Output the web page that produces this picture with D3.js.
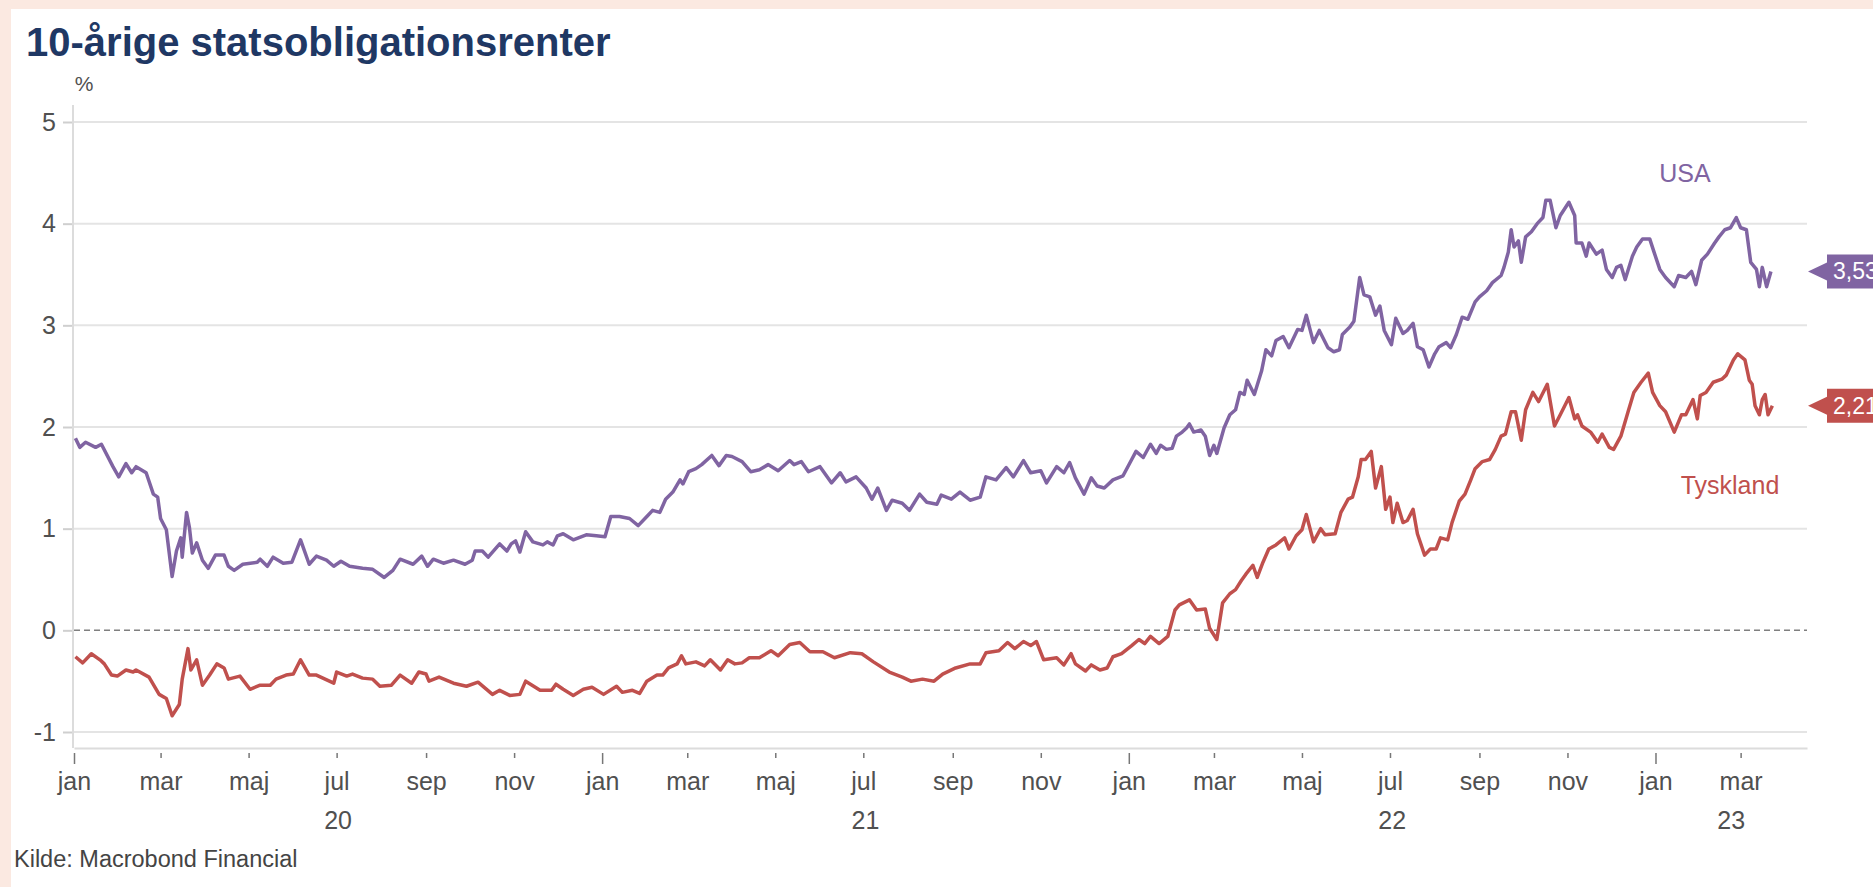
<!DOCTYPE html>
<html>
<head>
<meta charset="utf-8">
<script src="https://cdn.jsdelivr.net/npm/d3@7"></script>
<style>
body { margin: 0; background: #fbe9e1; }
svg { display: block; }
text { font-family: "Liberation Sans", Arial, sans-serif; }
</style>
</head>
<body>
<svg id="chart" width="1873" height="887"></svg>
<script>
var chartTitle = "10-årige statsobligationsrenter";
var sourceNote = "Kilde: Macrobond Financial";
var unitLabel = "%";
var monthNames = ["jan", "feb", "mar", "apr", "maj", "jun", "jul", "aug", "sep", "okt", "nov", "dec"];
var yTicks = [-1, 0, 1, 2, 3, 4, 5];
var xDomain = ["2020-01-01", "2023-04-16"];
var years = [2020, 2021, 2022, 2023];

// 10y US treasury yield
var usaYields = [
    ["2020-01-02", 1.89], ["2020-01-05", 1.80], ["2020-01-09", 1.85], ["2020-01-16", 1.80], ["2020-01-20", 1.83],
    ["2020-01-28", 1.61], ["2020-02-01", 1.51], ["2020-02-06", 1.64], ["2020-02-10", 1.55], ["2020-02-13", 1.61],
    ["2020-02-20", 1.55], ["2020-02-25", 1.34], ["2020-02-28", 1.31], ["2020-03-01", 1.10], ["2020-03-05", 0.99],
    ["2020-03-09", 0.53], ["2020-03-12", 0.78], ["2020-03-15", 0.91], ["2020-03-16", 0.72], ["2020-03-19", 1.16],
    ["2020-03-21", 1.01], ["2020-03-23", 0.76], ["2020-03-26", 0.86], ["2020-03-30", 0.69], ["2020-04-03", 0.61],
    ["2020-04-08", 0.74], ["2020-04-14", 0.74], ["2020-04-17", 0.63], ["2020-04-21", 0.59], ["2020-04-27", 0.65],
    ["2020-05-07", 0.67], ["2020-05-09", 0.70], ["2020-05-14", 0.63], ["2020-05-18", 0.72], ["2020-05-25", 0.66],
    ["2020-05-31", 0.67], ["2020-06-06", 0.89], ["2020-06-12", 0.65], ["2020-06-17", 0.73], ["2020-06-24", 0.69],
    ["2020-06-29", 0.63], ["2020-07-04", 0.68], ["2020-07-10", 0.63], ["2020-07-19", 0.61], ["2020-07-26", 0.60],
    ["2020-08-03", 0.52], ["2020-08-09", 0.59], ["2020-08-14", 0.70], ["2020-08-23", 0.65], ["2020-08-29", 0.73],
    ["2020-09-02", 0.63], ["2020-09-06", 0.70], ["2020-09-13", 0.66], ["2020-09-20", 0.69], ["2020-09-28", 0.65],
    ["2020-10-03", 0.69], ["2020-10-05", 0.78], ["2020-10-10", 0.78], ["2020-10-14", 0.72], ["2020-10-22", 0.85],
    ["2020-10-27", 0.78], ["2020-10-30", 0.85], ["2020-11-02", 0.88], ["2020-11-05", 0.77], ["2020-11-09", 0.97],
    ["2020-11-14", 0.87], ["2020-11-21", 0.84], ["2020-11-24", 0.87], ["2020-11-28", 0.84], ["2020-12-01", 0.93],
    ["2020-12-05", 0.95], ["2020-12-12", 0.89], ["2020-12-21", 0.94], ["2020-12-28", 0.93], ["2021-01-03", 0.92],
    ["2021-01-07", 1.12], ["2021-01-13", 1.12], ["2021-01-20", 1.10], ["2021-01-26", 1.03], ["2021-02-01", 1.12],
    ["2021-02-05", 1.18], ["2021-02-10", 1.16], ["2021-02-14", 1.29], ["2021-02-19", 1.36], ["2021-02-24", 1.48],
    ["2021-02-26", 1.44], ["2021-03-02", 1.56], ["2021-03-07", 1.59], ["2021-03-11", 1.63], ["2021-03-18", 1.72],
    ["2021-03-23", 1.62], ["2021-03-28", 1.72], ["2021-04-01", 1.71], ["2021-04-08", 1.66], ["2021-04-14", 1.56],
    ["2021-04-20", 1.58], ["2021-04-26", 1.63], ["2021-05-03", 1.57], ["2021-05-11", 1.67], ["2021-05-14", 1.63],
    ["2021-05-19", 1.66], ["2021-05-24", 1.56], ["2021-06-01", 1.61], ["2021-06-09", 1.45], ["2021-06-15", 1.55],
    ["2021-06-19", 1.46], ["2021-06-26", 1.51], ["2021-07-03", 1.40], ["2021-07-07", 1.29], ["2021-07-11", 1.40],
    ["2021-07-17", 1.18], ["2021-07-21", 1.28], ["2021-07-28", 1.25], ["2021-08-02", 1.18], ["2021-08-09", 1.34],
    ["2021-08-14", 1.26], ["2021-08-21", 1.24], ["2021-08-24", 1.33], ["2021-08-31", 1.29], ["2021-09-06", 1.36],
    ["2021-09-13", 1.28], ["2021-09-20", 1.31], ["2021-09-24", 1.51], ["2021-10-01", 1.48], ["2021-10-08", 1.60],
    ["2021-10-13", 1.51], ["2021-10-20", 1.67], ["2021-10-25", 1.55], ["2021-11-01", 1.57], ["2021-11-05", 1.45],
    ["2021-11-12", 1.61], ["2021-11-17", 1.55], ["2021-11-21", 1.65], ["2021-11-25", 1.50], ["2021-12-01", 1.34],
    ["2021-12-06", 1.50], ["2021-12-10", 1.42], ["2021-12-15", 1.40], ["2021-12-21", 1.48], ["2021-12-28", 1.52],
    ["2022-01-03", 1.68], ["2022-01-06", 1.76], ["2022-01-11", 1.70], ["2022-01-16", 1.83], ["2022-01-20", 1.74],
    ["2022-01-23", 1.82], ["2022-01-27", 1.78], ["2022-01-31", 1.79], ["2022-02-03", 1.91], ["2022-02-07", 1.95],
    ["2022-02-10", 1.99], ["2022-02-12", 2.03], ["2022-02-15", 1.95], ["2022-02-20", 1.97], ["2022-02-23", 1.91],
    ["2022-02-26", 1.72], ["2022-03-01", 1.82], ["2022-03-03", 1.74], ["2022-03-08", 1.99], ["2022-03-12", 2.12],
    ["2022-03-16", 2.17], ["2022-03-19", 2.34], ["2022-03-22", 2.32], ["2022-03-24", 2.46], ["2022-03-29", 2.32],
    ["2022-04-03", 2.55], ["2022-04-06", 2.76], ["2022-04-10", 2.70], ["2022-04-13", 2.85], ["2022-04-18", 2.89],
    ["2022-04-22", 2.78], ["2022-04-28", 2.96], ["2022-05-01", 2.95], ["2022-05-04", 3.10], ["2022-05-09", 2.83],
    ["2022-05-13", 2.95], ["2022-05-19", 2.78], ["2022-05-23", 2.74], ["2022-05-27", 2.76], ["2022-05-29", 2.91],
    ["2022-06-03", 2.98], ["2022-06-06", 3.04], ["2022-06-10", 3.47], ["2022-06-13", 3.30], ["2022-06-17", 3.28],
    ["2022-06-21", 3.10], ["2022-06-24", 3.19], ["2022-06-27", 2.95], ["2022-07-02", 2.81], ["2022-07-05", 3.07],
    ["2022-07-10", 2.92], ["2022-07-13", 2.95], ["2022-07-17", 3.02], ["2022-07-20", 2.79], ["2022-07-24", 2.76],
    ["2022-07-28", 2.59], ["2022-08-01", 2.72], ["2022-08-04", 2.79], ["2022-08-09", 2.83], ["2022-08-12", 2.78],
    ["2022-08-16", 2.91], ["2022-08-20", 3.08], ["2022-08-24", 3.06], ["2022-08-29", 3.23], ["2022-09-01", 3.28],
    ["2022-09-06", 3.34], ["2022-09-10", 3.42], ["2022-09-16", 3.49], ["2022-09-18", 3.57], ["2022-09-21", 3.72],
    ["2022-09-23", 3.94], ["2022-09-25", 3.77], ["2022-09-28", 3.83], ["2022-09-30", 3.62], ["2022-10-03", 3.87],
    ["2022-10-07", 3.92], ["2022-10-11", 4.00], ["2022-10-15", 4.06], ["2022-10-17", 4.23], ["2022-10-20", 4.23],
    ["2022-10-24", 3.96], ["2022-10-27", 4.08], ["2022-11-02", 4.21], ["2022-11-06", 4.08], ["2022-11-07", 3.81],
    ["2022-11-11", 3.81], ["2022-11-14", 3.68], ["2022-11-16", 3.81], ["2022-11-21", 3.70], ["2022-11-25", 3.74],
    ["2022-11-28", 3.55], ["2022-12-02", 3.47], ["2022-12-05", 3.57], ["2022-12-08", 3.59], ["2022-12-11", 3.45],
    ["2022-12-16", 3.68], ["2022-12-19", 3.77], ["2022-12-23", 3.85], ["2022-12-28", 3.85], ["2022-12-31", 3.72],
    ["2023-01-04", 3.55], ["2023-01-08", 3.47], ["2023-01-14", 3.38], ["2023-01-17", 3.49], ["2023-01-22", 3.47],
    ["2023-01-26", 3.53], ["2023-01-29", 3.40], ["2023-02-02", 3.64], ["2023-02-06", 3.70], ["2023-02-11", 3.81],
    ["2023-02-14", 3.87], ["2023-02-18", 3.94], ["2023-02-22", 3.96], ["2023-02-26", 4.06], ["2023-03-01", 3.96],
    ["2023-03-05", 3.94], ["2023-03-08", 3.62], ["2023-03-12", 3.55], ["2023-03-14", 3.38], ["2023-03-16", 3.57],
    ["2023-03-19", 3.38], ["2023-03-22", 3.53]
];

// 10y German bund yield
var tysklandYields = [
    ["2020-01-02", -0.26], ["2020-01-07", -0.32], ["2020-01-13", -0.23], ["2020-01-19", -0.29], ["2020-01-22", -0.33],
    ["2020-01-27", -0.44], ["2020-01-31", -0.45], ["2020-02-06", -0.39], ["2020-02-11", -0.41], ["2020-02-13", -0.39],
    ["2020-02-22", -0.46], ["2020-02-29", -0.63], ["2020-03-05", -0.67], ["2020-03-09", -0.84], ["2020-03-14", -0.73],
    ["2020-03-16", -0.48], ["2020-03-20", -0.18], ["2020-03-22", -0.39], ["2020-03-26", -0.29], ["2020-03-30", -0.54],
    ["2020-04-04", -0.44], ["2020-04-09", -0.33], ["2020-04-14", -0.37], ["2020-04-17", -0.48], ["2020-04-25", -0.45],
    ["2020-05-02", -0.58], ["2020-05-09", -0.54], ["2020-05-16", -0.54], ["2020-05-20", -0.48], ["2020-05-27", -0.44],
    ["2020-06-01", -0.43], ["2020-06-06", -0.29], ["2020-06-12", -0.44], ["2020-06-17", -0.44], ["2020-06-29", -0.52],
    ["2020-07-01", -0.41], ["2020-07-08", -0.45], ["2020-07-12", -0.43], ["2020-07-19", -0.47], ["2020-07-26", -0.48],
    ["2020-07-31", -0.55], ["2020-08-08", -0.54], ["2020-08-14", -0.44], ["2020-08-22", -0.52], ["2020-08-27", -0.41],
    ["2020-09-01", -0.43], ["2020-09-03", -0.50], ["2020-09-10", -0.46], ["2020-09-20", -0.52], ["2020-09-29", -0.55],
    ["2020-10-07", -0.51], ["2020-10-17", -0.63], ["2020-10-22", -0.59], ["2020-10-29", -0.64], ["2020-11-05", -0.63],
    ["2020-11-09", -0.50], ["2020-11-19", -0.59], ["2020-11-27", -0.59], ["2020-11-30", -0.53], ["2020-12-05", -0.58],
    ["2020-12-12", -0.64], ["2020-12-19", -0.58], ["2020-12-25", -0.56], ["2021-01-02", -0.63], ["2021-01-11", -0.55],
    ["2021-01-15", -0.61], ["2021-01-22", -0.59], ["2021-01-27", -0.62], ["2021-02-01", -0.50], ["2021-02-08", -0.44],
    ["2021-02-12", -0.44], ["2021-02-16", -0.37], ["2021-02-22", -0.33], ["2021-02-25", -0.25], ["2021-02-28", -0.33],
    ["2021-03-07", -0.31], ["2021-03-13", -0.35], ["2021-03-17", -0.29], ["2021-03-24", -0.39], ["2021-03-29", -0.29],
    ["2021-04-03", -0.33], ["2021-04-08", -0.32], ["2021-04-13", -0.27], ["2021-04-20", -0.27], ["2021-04-28", -0.20],
    ["2021-05-03", -0.25], ["2021-05-11", -0.14], ["2021-05-18", -0.12], ["2021-05-25", -0.21], ["2021-06-03", -0.21],
    ["2021-06-11", -0.27], ["2021-06-22", -0.22], ["2021-06-30", -0.23], ["2021-07-08", -0.31], ["2021-07-19", -0.41],
    ["2021-07-28", -0.46], ["2021-08-03", -0.50], ["2021-08-11", -0.48], ["2021-08-19", -0.50], ["2021-08-25", -0.43],
    ["2021-09-03", -0.37], ["2021-09-13", -0.33], ["2021-09-20", -0.33], ["2021-09-24", -0.22], ["2021-10-03", -0.20],
    ["2021-10-09", -0.12], ["2021-10-14", -0.18], ["2021-10-20", -0.11], ["2021-10-25", -0.15], ["2021-10-29", -0.11],
    ["2021-11-03", -0.29], ["2021-11-12", -0.27], ["2021-11-17", -0.34], ["2021-11-22", -0.23], ["2021-11-25", -0.33],
    ["2021-12-02", -0.40], ["2021-12-06", -0.34], ["2021-12-12", -0.39], ["2021-12-17", -0.37], ["2021-12-21", -0.26],
    ["2021-12-27", -0.23], ["2022-01-03", -0.15], ["2022-01-08", -0.09], ["2022-01-12", -0.13], ["2022-01-16", -0.06],
    ["2022-01-22", -0.13], ["2022-01-28", -0.06], ["2022-02-02", 0.20], ["2022-02-05", 0.25], ["2022-02-12", 0.30],
    ["2022-02-17", 0.20], ["2022-02-23", 0.21], ["2022-02-26", 0.02], ["2022-03-03", -0.09], ["2022-03-07", 0.27],
    ["2022-03-12", 0.36], ["2022-03-16", 0.40], ["2022-03-20", 0.49], ["2022-03-23", 0.55], ["2022-03-28", 0.64],
    ["2022-03-31", 0.52], ["2022-04-04", 0.67], ["2022-04-08", 0.80], ["2022-04-13", 0.84], ["2022-04-19", 0.91],
    ["2022-04-22", 0.80], ["2022-04-27", 0.93], ["2022-05-01", 0.99], ["2022-05-04", 1.14], ["2022-05-09", 0.87],
    ["2022-05-14", 1.00], ["2022-05-17", 0.94], ["2022-05-24", 0.95], ["2022-05-28", 1.16], ["2022-06-02", 1.29],
    ["2022-06-05", 1.31], ["2022-06-09", 1.51], ["2022-06-11", 1.68], ["2022-06-14", 1.68], ["2022-06-18", 1.76],
    ["2022-06-21", 1.40], ["2022-06-25", 1.61], ["2022-06-28", 1.19], ["2022-07-01", 1.31], ["2022-07-03", 1.06],
    ["2022-07-06", 1.25], ["2022-07-10", 1.06], ["2022-07-13", 1.08], ["2022-07-17", 1.19], ["2022-07-20", 0.95],
    ["2022-07-25", 0.74], ["2022-07-29", 0.80], ["2022-08-02", 0.80], ["2022-08-05", 0.91], ["2022-08-10", 0.89],
    ["2022-08-13", 1.06], ["2022-08-18", 1.27], ["2022-08-22", 1.34], ["2022-08-26", 1.48], ["2022-08-29", 1.59],
    ["2022-09-03", 1.66], ["2022-09-08", 1.68], ["2022-09-12", 1.78], ["2022-09-16", 1.91], ["2022-09-19", 1.93],
    ["2022-09-23", 2.15], ["2022-09-26", 2.15], ["2022-09-30", 1.87], ["2022-10-03", 2.17], ["2022-10-08", 2.34],
    ["2022-10-12", 2.25], ["2022-10-18", 2.42], ["2022-10-23", 2.01], ["2022-10-27", 2.12], ["2022-11-02", 2.29],
    ["2022-11-06", 2.08], ["2022-11-08", 2.12], ["2022-11-11", 2.01], ["2022-11-17", 1.95], ["2022-11-22", 1.85],
    ["2022-11-25", 1.93], ["2022-11-30", 1.80], ["2022-12-03", 1.78], ["2022-12-08", 1.91], ["2022-12-13", 2.15],
    ["2022-12-17", 2.34], ["2022-12-22", 2.44], ["2022-12-27", 2.53], ["2022-12-30", 2.34], ["2023-01-04", 2.21],
    ["2023-01-08", 2.15], ["2023-01-14", 1.95], ["2023-01-19", 2.12], ["2023-01-22", 2.12], ["2023-01-27", 2.27],
    ["2023-01-30", 2.08], ["2023-02-01", 2.31], ["2023-02-05", 2.34], ["2023-02-10", 2.44], ["2023-02-16", 2.47],
    ["2023-02-19", 2.51], ["2023-02-24", 2.66], ["2023-02-27", 2.72], ["2023-03-04", 2.66], ["2023-03-07", 2.46],
    ["2023-03-09", 2.42], ["2023-03-11", 2.21], ["2023-03-14", 2.12], ["2023-03-16", 2.27], ["2023-03-18", 2.32],
    ["2023-03-20", 2.12], ["2023-03-23", 2.21]
];

var series = [
    {name: "USA", values: usaYields, color: "#8064a2", labelX: 1685, labelY: 173},
    {name: "Tyskland", values: tysklandYields, color: "#c0504d", labelX: 1730, labelY: 485}
];

var parseDate = d3.timeParse("%Y-%m-%d");
var commaFormat = function(v) { return d3.format(".2f")(v).replace(".", ","); };

var svg = d3.select("#chart");

// white panel on the pink page
svg.append("rect")
    .attr("x", 11).attr("y", 9)
    .attr("width", 1873 - 11).attr("height", 887 - 9)
    .attr("fill", "#ffffff");

var x = d3.scaleTime()
    .domain(xDomain.map(parseDate))
    .range([74, 1807]);
var y = d3.scaleLinear()
    .domain([-1, 5])
    .range([732, 122]);

var plotBottom = 748,
    plotTop = 105;

// gridlines
svg.append("g").attr("class", "grid")
    .selectAll("line")
    .data(yTicks.filter(function(d) { return d != 0; }))
    .enter().append("line")
    .attr("x1", x.range()[0]).attr("x2", x.range()[1])
    .attr("y1", function(d) { return y(d); })
    .attr("y2", function(d) { return y(d); })
    .attr("stroke", "#e4e4e4")
    .attr("stroke-width", 2);

// y axis
var yAxis = svg.append("g")
    .attr("transform", "translate(73,0)")
    .call(d3.axisLeft(y)
        .tickValues(yTicks)
        .tickFormat(function(d) { return String(d); })
        .tickSize(10)
        .tickPadding(7));
yAxis.select(".domain").remove();
yAxis.selectAll(".tick line").attr("stroke", "#cfcfcf").attr("stroke-width", 2);
yAxis.selectAll(".tick text")
    .attr("fill", "#505050")
    .style("font-size", "25px");
svg.append("line")
    .attr("x1", 73).attr("x2", 73)
    .attr("y1", plotTop).attr("y2", plotBottom)
    .attr("stroke", "#dcdcdc")
    .attr("stroke-width", 2);

// x axis
var xAxis = svg.append("g")
    .attr("transform", "translate(0," + plotBottom + ")")
    .call(d3.axisBottom(x)
        .ticks(d3.timeMonth.every(2))
        .tickFormat(function(d) { return monthNames[d.getMonth()]; })
        .tickSize(6)
        .tickSizeOuter(0)
        .tickPadding(18));
xAxis.select(".domain").attr("stroke", "#dcdcdc").attr("stroke-width", 2);
xAxis.selectAll(".tick line")
    .attr("stroke", "#777777")
    .attr("stroke-width", 1.5)
    .attr("y1", 5)
    .attr("y2", function(d) { return d.getMonth() == 0 ? 16 : 10; });
xAxis.selectAll(".tick text")
    .attr("fill", "#505050")
    .style("font-size", "25px");

// year labels centred under the visible part of each year
var xDates = x.domain();
svg.append("g").selectAll("text")
    .data(years)
    .enter().append("text")
    .attr("x", function(yr) {
        var a = d3.max([new Date(yr, 0, 1), xDates[0]]),
            b = d3.min([new Date(yr + 1, 0, 1), xDates[1]]);
        return (x(a) + x(b)) / 2;
    })
    .attr("y", 829)
    .attr("text-anchor", "middle")
    .attr("fill", "#505050")
    .style("font-size", "25px")
    .text(function(yr) { return String(yr).slice(2); });

// zero line
svg.append("line")
    .attr("x1", x.range()[0]).attr("x2", x.range()[1])
    .attr("y1", y(0)).attr("y2", y(0))
    .attr("stroke", "#7f7f7f")
    .attr("stroke-width", 1.5)
    .attr("stroke-dasharray", "6,4");

// series lines
var line = d3.line()
    .x(function(d) { return x(parseDate(d[0])); })
    .y(function(d) { return y(d[1]); });

svg.append("g").selectAll("path")
    .data(series)
    .enter().append("path")
    .attr("d", function(s) { return line(s.values); })
    .attr("fill", "none")
    .attr("stroke", function(s) { return s.color; })
    .attr("stroke-width", 3.5)
    .attr("stroke-linejoin", "round");

// series names
svg.append("g").selectAll("text")
    .data(series)
    .enter().append("text")
    .attr("x", function(s) { return s.labelX; })
    .attr("y", function(s) { return s.labelY + 9; })
    .attr("text-anchor", "middle")
    .attr("fill", function(s) { return s.color; })
    .style("font-size", "25px")
    .text(function(s) { return s.name; });

// last value flags on the right edge, cut by the frame as in the source
var flags = svg.append("g").selectAll("g")
    .data(series)
    .enter().append("g")
    .attr("transform", function(s) {
        var last = s.values[s.values.length - 1];
        return "translate(1808," + y(last[1]) + ")";
    });
flags.append("path")
    .attr("d", "M0,0 L19,-9 L19,-17 L80,-17 L80,17 L19,17 L19,9 Z")
    .attr("fill", function(s) { return s.color; });
flags.append("text")
    .attr("x", 25)
    .attr("y", 8)
    .attr("fill", "#ffffff")
    .style("font-size", "23px")
    .text(function(s) { return commaFormat(s.values[s.values.length - 1][1]); });

// title, unit and source
svg.append("text")
    .attr("x", 26).attr("y", 56)
    .attr("fill", "#1f3864")
    .style("font-size", "40px")
    .style("font-weight", "bold")
    .text(chartTitle);
svg.append("text")
    .attr("x", 84).attr("y", 91)
    .attr("text-anchor", "middle")
    .attr("fill", "#505050")
    .style("font-size", "21px")
    .text(unitLabel);
svg.append("text")
    .attr("x", 14).attr("y", 867)
    .attr("fill", "#444444")
    .style("font-size", "23.5px")
    .text(sourceNote);
</script>
</body>
</html>
